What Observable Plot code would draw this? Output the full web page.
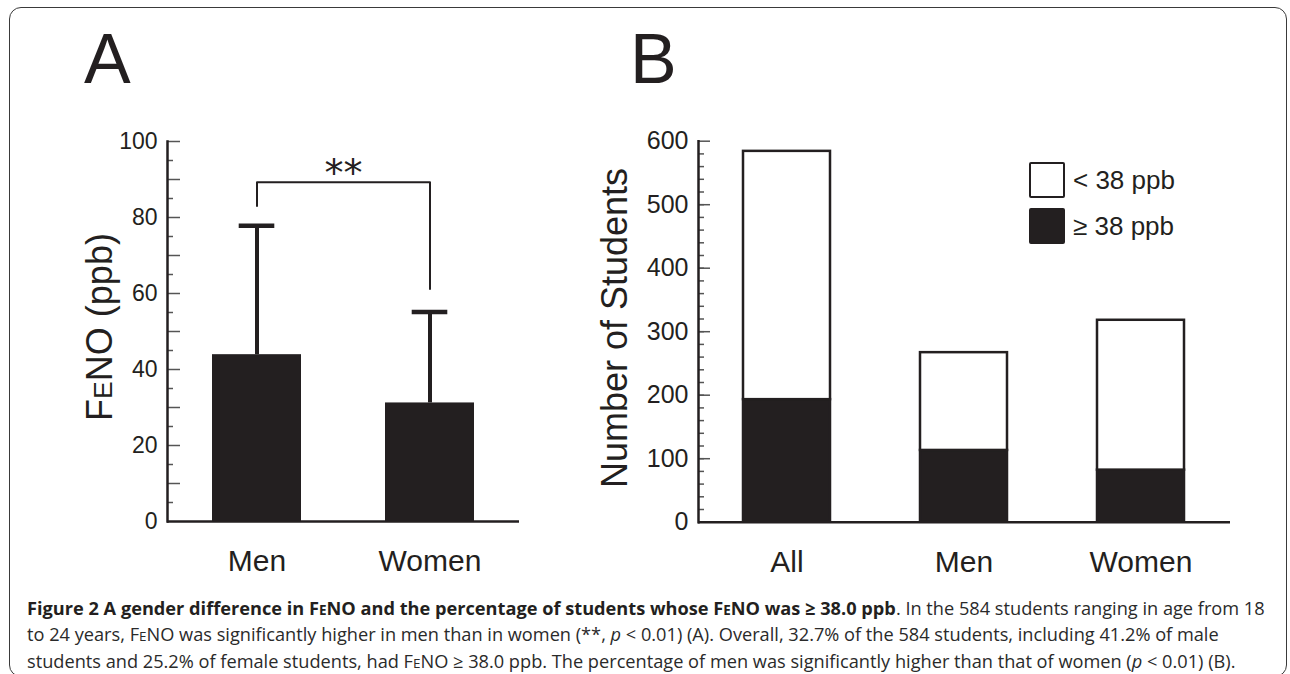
<!DOCTYPE html>
<html>
<head>
<meta charset="utf-8">
<script src="https://cdn.jsdelivr.net/npm/d3@7"></script>
<script src="https://cdn.jsdelivr.net/npm/@observablehq/plot@0.6"></script>
<style>
  html, body { margin: 0; padding: 0; background: #fff; }
  body { width: 1290px; height: 674px; overflow: hidden; position: relative;
         font-family: "Liberation Sans", Arial, Helvetica, sans-serif; color: #231f20; }
  .frame { position: absolute; left: 9px; top: 7px; width: 1278px; height: 670px;
           border: 1.5px solid #3a3a3a; border-radius: 12px; box-sizing: border-box; }
  .abs { position: absolute; white-space: nowrap; line-height: 1; }
  .letter { font-size: 70px; }
  .ytitle { font-size: 36px; transform: translate(-50%, -50%) rotate(-90deg); }
  .sc { font-size: 0.74em; }
  .legend-box { position: absolute; width: 36px; height: 36px; box-sizing: border-box;
                border: 2.5px solid #231f20; border-radius: 2px; }
  .legend-text { font-size: 26px; }
  .caption { position: absolute; left: 27px; top: 595.5px; font-family: "Open Sans", sans-serif;
             font-size: 18.2px; line-height: 24.5px; color: #2a2a2a; white-space: nowrap; }
  .caption b { color: #231f20; }
  #panelA, #panelB { position: absolute; top: 100px; }
  #panelA { left: 0px; }
  #panelB { left: 590px; }
</style>
</head>
<body>
<div class="frame"></div>
<div id="panelA"></div>
<div id="panelB"></div>
<div id="overlay"></div>
<div class="caption" id="caption"></div>
<script>
// ---------- Panel A data ----------
const groupsA = ["Men", "Women"];
const fenoMean = [43.9, 31.2];
const fenoSD = [33.9, 23.9];
const yTicksA = [0, 20, 40, 60, 80, 100];
const sigLegEnds = [83, 61.2];
const sigTop = 89.3;
const sigLabel = "**";
const sigLabelY = 93.7;

// ---------- Panel B data ----------
const groupsB = ["All", "Men", "Women"];
const totalB = [584, 267, 318];
const highB = [193, 113, 82];
const seriesB = ["≥ 38 ppb", "< 38 ppb"];
const yTicksB = [0, 100, 200, 300, 400, 500, 600];

// ---------- Text ----------
const panelLetters = ["A", "B"];
const yTitleA = "F<span class='sc'>E</span>NO (ppb)";
const yTitleB = "Number of Students";
const captionLines = [
  "<b>Figure 2 A gender difference in F<span class='sc'>E</span>NO and the percentage of students whose F<span class='sc'>E</span>NO was ≥ 38.0 ppb</b>. In the 584 students ranging in age from 18",
  "to 24 years, F<span class='sc'>E</span>NO was significantly higher in men than in women (**, <i>p</i> &lt; 0.01) (A). Overall, 32.7% of the 584 students, including 41.2% of male",
  "students and 25.2% of female students, had F<span class='sc'>E</span>NO ≥ 38.0 ppb. The percentage of men was significantly higher than that of women (<i>p</i> &lt; 0.01) (B)."
];

const ink = "#231f20";
const tickInk = "#555";
const baseStyle = { fontFamily: "'Liberation Sans', Arial, Helvetica, sans-serif", color: ink, background: "transparent", overflow: "visible" };

// ---------- Panel A ----------
const tableA = groupsA.map((g, i) => ({ group: g, mean: fenoMean[i], sd: fenoSD[i] }));
const bracket = [
  { group: groupsA[0], y: sigLegEnds[0] },
  { group: groupsA[0], y: sigTop },
  { group: groupsA[1], y: sigTop },
  { group: groupsA[1], y: sigLegEnds[1] }
];
const sigText = [{ group: groupsA[0], y: sigLabelY, label: sigLabel }];

const wA = 560, hA = 480, mlA = 167, mrA = 41, mtA = 41, mbA = 59;
const frameWA = wA - mlA - mrA;
const xA = { domain: groupsA, paddingInner: 0.486, paddingOuter: 0.26, axis: null };
const stepA = frameWA / (groupsA.length - xA.paddingInner + 2 * xA.paddingOuter);

const plotA = Plot.plot({
  width: wA, height: hA, marginLeft: mlA, marginRight: mrA, marginTop: mtA, marginBottom: mbA,
  x: xA,
  y: { domain: [0, 100], axis: null },
  style: baseStyle,
  marks: [
    Plot.tickY(d3.range(5, 100, 10), { y: d => d, insetRight: frameWA - 6, stroke: tickInk, strokeWidth: 1.5 }),
    Plot.tickY(d3.range(10, 101, 10), { y: d => d, insetRight: frameWA - 13, stroke: tickInk, strokeWidth: 1.5 }),
    Plot.ruleX(tableA, { x: "group", y1: "mean", y2: d => d.mean + d.sd, stroke: ink, strokeWidth: 4 }),
    Plot.tickY(tableA, { x: "group", y: d => d.mean + d.sd, insetLeft: 26.7, insetRight: 26.7, stroke: ink, strokeWidth: 4.5 }),
    Plot.barY(tableA, { x: "group", y: "mean", fill: ink, inset: 0 }),
    Plot.line(bracket, { x: "group", y: "y", stroke: ink, strokeWidth: 2, curve: "linear" }),
    Plot.text(sigText, { x: "group", y: "y", text: "label", dx: stepA / 2, dy: 8, fontSize: 38, fontFamily: "'DejaVu Sans', sans-serif", fill: ink }),
    Plot.frame({ anchor: "left", stroke: ink, strokeWidth: 2.5 }),
    Plot.ruleY([0], { stroke: ink, strokeWidth: 2.5 }),
    Plot.axisY({ ticks: yTicksA, tickSize: 0, tickPadding: 10, label: null, fontSize: 23, fill: ink }),
    Plot.axisX({ tickSize: 0, tickPadding: 28, label: null, fontSize: 30, fill: ink })
  ]
});
document.getElementById("panelA").append(plotA);

// ---------- Panel B ----------
const tableB = groupsB.flatMap((g, i) => [
  { group: g, cat: seriesB[0], n: highB[i] },
  { group: g, cat: seriesB[1], n: totalB[i] - highB[i] }
]);
const wB = 700, hB = 480, mlB = 108, mrB = 60, mtB = 40.7, mbB = 58.3;
const frameWB = wB - mlB - mrB;

const plotB = Plot.plot({
  width: wB, height: hB, marginLeft: mlB, marginRight: mrB, marginTop: mtB, marginBottom: mbB,
  x: { domain: groupsB, paddingInner: 0.508, paddingOuter: 0.2485, axis: null },
  y: { domain: [0, 600], axis: null },
  color: { domain: seriesB, range: [ink, "#ffffff"] },
  style: baseStyle,
  marks: [
    Plot.tickY(d3.range(20, 600, 20), { y: d => d, insetRight: frameWB - 6, stroke: tickInk, strokeWidth: 1.5 }),
    Plot.tickY(d3.range(100, 601, 100), { y: d => d, insetRight: frameWB - 12, stroke: tickInk, strokeWidth: 1.5 }),
    Plot.barY(tableB, { x: "group", y: "n", fill: "cat", stroke: ink, strokeWidth: 2.5, inset: 0 }),
    Plot.frame({ anchor: "left", stroke: ink, strokeWidth: 2.5 }),
    Plot.ruleY([0], { stroke: ink, strokeWidth: 2.5 }),
    Plot.axisY({ ticks: yTicksB, tickSize: 0, tickPadding: 10, label: null, fontSize: 25, fill: ink }),
    Plot.axisX({ tickSize: 0, tickPadding: 28, label: null, fontSize: 30, fill: ink })
  ]
});
document.getElementById("panelB").append(plotB);

// ---------- Overlay text (letters, titles, legend) ----------
const overlay = document.getElementById("overlay");
function addDiv(cls, html, left, top) {
  const d = document.createElement("div");
  d.className = "abs " + cls;
  d.innerHTML = html;
  d.style.left = left + "px";
  d.style.top = top + "px";
  overlay.append(d);
  return d;
}
addDiv("letter", panelLetters[0], 84, 24);
addDiv("letter", panelLetters[1], 630, 24);
addDiv("ytitle", yTitleA, 99.5, 327);
addDiv("ytitle", yTitleB, 614.5, 328);

// legend: upper entry is the "< 38 ppb" series
const legendOrder = [seriesB[1], seriesB[0]];
const legendFill = { [seriesB[0]]: ink, [seriesB[1]]: "#ffffff" };
legendOrder.forEach((s, i) => {
  const box = document.createElement("div");
  box.className = "legend-box";
  box.style.left = "1029px";
  box.style.top = (162 + i * 46) + "px";
  box.style.background = legendFill[s];
  overlay.append(box);
  addDiv("legend-text", s, 1073, 167 + i * 46);
});

document.getElementById("caption").innerHTML = captionLines.map(l => `<div>${l}</div>`).join("");
</script>
</body>
</html>
